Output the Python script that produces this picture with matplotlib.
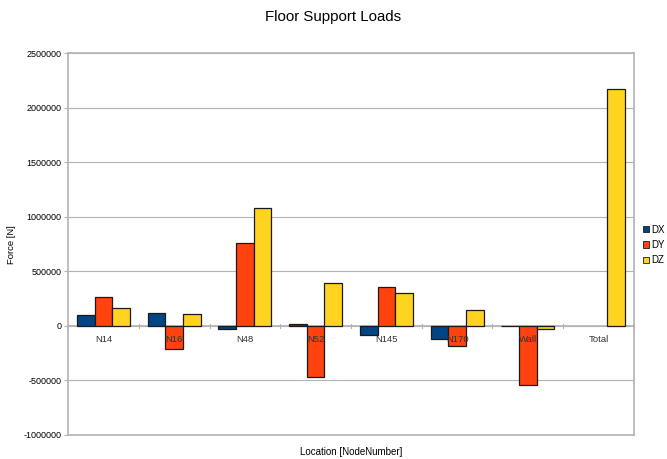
import matplotlib
matplotlib.use("Agg")
import matplotlib.pyplot as plt
import numpy as np
from matplotlib.patches import Patch
from matplotlib.transforms import offset_copy

plt.rcParams['font.family'] = ['Liberation Sans', 'DejaVu Sans']

locations = ["N14", "N16", "N48", "N52", "N145", "N170", "Wall", "Total"]
dx = [95000, 114000, -33000, 18000, -88000, -116000, -5000, 0]
dy = [266000, -211000, 760000, -470000, 353000, -184000, -539000, 0]
dz = [165000, 107000, 1080000, 390000, 300000, 141000, -30000, 2170000]
series_names = ["DX", "DY", "DZ"]
series_colors = ["#004586", "#ff420e", "#ffd320"]
y_ticks = [-1000000, -500000, 0, 500000, 1000000, 1500000, 2000000, 2500000]

fig = plt.figure(figsize=(6.67, 4.59), dpi=100)
ax_left, ax_bottom, ax_w, ax_h = 0.102, 0.0523, 0.8485, 0.8322
ax = fig.add_axes([ax_left, ax_bottom, ax_w, ax_h])

x = np.arange(len(locations))
w = 0.25
for k, (vals, col) in enumerate(zip([dx, dy, dz], series_colors)):
    # bars with no height are left without an outline
    lws = [0.9 if v != 0 else 0 for v in vals]
    ax.bar(x + (k - 1) * w, vals, width=w, color=col, edgecolor="#1a1a1a",
           linewidth=lws, zorder=3)

ax.set_xlim(-0.5, len(locations) - 0.5)
ax.set_ylim(-1000000, 2500000)
ax.set_yticks(y_ticks)
ax.set_yticklabels([str(v) for v in y_ticks], fontsize=6.5)
ax.tick_params(axis='y', length=3, color="#b3b3b3", pad=1.5, width=0.8)
ax.set_xticks([])
ax.yaxis.grid(True, color="#b3b3b3", linewidth=0.8, zorder=0)
ax.set_axisbelow(True)
for s in ax.spines.values():
    s.set_color("#b3b3b3")
    s.set_linewidth(1.2)

# zero axis with category divider ticks
ax.axhline(0, color="#b3b3b3", linewidth=1.2, zorder=1)
for b in np.arange(len(locations) + 1) - 0.5:
    ax.plot([b, b], [-18000, 18000], color="#b3b3b3", linewidth=0.8, zorder=1,
            clip_on=False)

# category labels sit just below the zero line
lab_tr = offset_copy(ax.transData, fig=fig, x=0, y=-14, units='dots')
for i, name in enumerate(locations):
    ax.text(i, 0, name, transform=lab_tr, ha='center', va='center',
            fontsize=6.8, color="#333333", zorder=5)

fig.text(12 / 667, 1 - 245 / 459, "Force [N]", rotation=90,
         ha='center', va='center', fontsize=6.8)
fig.text(ax_left + ax_w / 2, 1 - 452 / 459, "Location [NodeNumber]",
         ha='center', va='center', fontsize=7)
fig.text(0.5, 1 - 17 / 459, "Floor Support Loads",
         ha='center', va='center', fontsize=10.8)

handles = [Patch(facecolor=c, edgecolor="#1a1a1a", linewidth=0.6) for c in series_colors]
fig.legend(handles, series_names, loc='center left',
           bbox_to_anchor=(643 / 667, 1 - 245 / 459), frameon=False, fontsize=7,
           handlelength=0.6, handleheight=0.6, handletextpad=0.3,
           labelspacing=0.55, borderaxespad=0, borderpad=0)

fig.savefig("out.png", dpi=100)
